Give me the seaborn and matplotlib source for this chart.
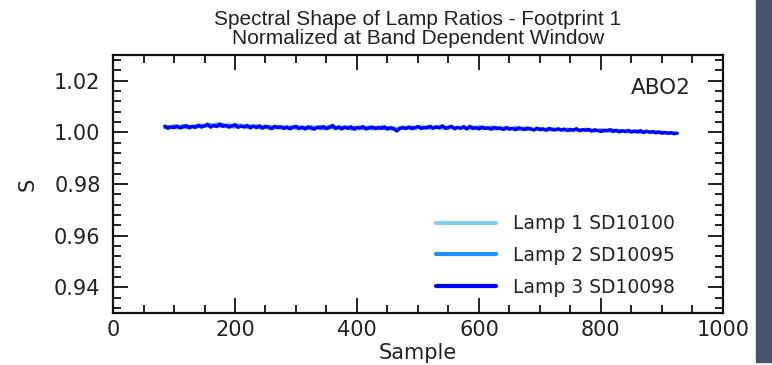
import numpy as np
import pandas as pd
import matplotlib
matplotlib.use("Agg")
import matplotlib.pyplot as plt
import seaborn as sns
from matplotlib.ticker import MultipleLocator, FormatStrFormatter
from matplotlib.patches import Rectangle

# every 5th sample
samples = list(range(85, 926, 5))

lamp3 = [1.0024, 1.0016, 1.0022, 1.0018, 1.0025, 1.0017, 1.0021, 1.0026, 1.0018, 1.0023,
         1.0019, 1.0027, 1.0021, 1.0025, 1.0031, 1.0020, 1.0028, 1.0022, 1.0033, 1.0023,
         1.0028, 1.0020, 1.0026, 1.0030, 1.0019, 1.0025, 1.0021, 1.0027, 1.0017, 1.0024,
         1.0019, 1.0026, 1.0016, 1.0023, 1.0020, 1.0014, 1.0024, 1.0018, 1.0022, 1.0015,
         1.0021, 1.0014, 1.0019, 1.0024, 1.0015, 1.0020, 1.0013, 1.0022, 1.0017, 1.0012,
         1.0021, 1.0016, 1.0023, 1.0014, 1.0019, 1.0027, 1.0016, 1.0021, 1.0013, 1.0020,
         1.0015, 1.0022, 1.0012, 1.0019, 1.0016, 1.0023, 1.0013, 1.0018, 1.0021, 1.0014,
         1.0020, 1.0015, 1.0022, 1.0013, 1.0018, 1.0016, 1.0005, 1.0014, 1.0019, 1.0015,
         1.0021, 1.0014, 1.0019, 1.0023, 1.0015, 1.0020, 1.0017, 1.0024, 1.0016, 1.0021,
         1.0017, 1.0026, 1.0015, 1.0020, 1.0023, 1.0014, 1.0019, 1.0016, 1.0022, 1.0013,
         1.0024, 1.0016, 1.0019, 1.0013, 1.0021, 1.0015, 1.0018, 1.0012, 1.0020, 1.0014,
         1.0017, 1.0011, 1.0019, 1.0013, 1.0016, 1.0010, 1.0018, 1.0014, 1.0011, 1.0017,
         1.0013, 1.0009, 1.0016, 1.0011, 1.0014, 1.0008, 1.0015, 1.0012, 1.0009, 1.0014,
         1.0010, 1.0013, 1.0007, 1.0012, 1.0009, 1.0014, 1.0006, 1.0011, 1.0008, 1.0012,
         1.0005, 1.0010, 1.0007, 1.0003, 1.0009, 1.0006, 1.0011, 1.0004, 1.0008, 1.0002,
         1.0007, 1.0003, 1.0008, 1.0001, 1.0005, 1.0002, 1.0007, 0.9999, 1.0004, 1.0001,
         1.0003, 0.9998, 1.0002, 0.9997, 1.0000, 0.9996, 0.9999, 0.9995, 0.9997]

lamp2 = [1.0018, 1.0023, 1.0019, 1.0025, 1.0020, 1.0022, 1.0027, 1.0019, 1.0024, 1.0021,
         1.0026, 1.0022, 1.0028, 1.0023, 1.0026, 1.0030, 1.0024, 1.0029, 1.0025, 1.0031,
         1.0022, 1.0027, 1.0024, 1.0021, 1.0028, 1.0023, 1.0026, 1.0020, 1.0025, 1.0022,
         1.0025, 1.0018, 1.0022, 1.0019, 1.0024, 1.0020, 1.0017, 1.0023, 1.0019, 1.0021,
         1.0016, 1.0020, 1.0023, 1.0017, 1.0014, 1.0021, 1.0018, 1.0015, 1.0022, 1.0016,
         1.0019, 1.0022, 1.0015, 1.0020, 1.0024, 1.0018, 1.0014, 1.0022, 1.0017, 1.0021,
         1.0018, 1.0014, 1.0020, 1.0017, 1.0021, 1.0015, 1.0019, 1.0016, 1.0013, 1.0020,
         1.0016, 1.0021, 1.0014, 1.0019, 1.0015, 1.0011, 1.0013, 1.0017, 1.0021, 1.0014,
         1.0018, 1.0020, 1.0016, 1.0021, 1.0018, 1.0015, 1.0022, 1.0019, 1.0016, 1.0023,
         1.0019, 1.0022, 1.0018, 1.0016, 1.0021, 1.0017, 1.0020, 1.0015, 1.0019, 1.0016,
         1.0020, 1.0014, 1.0017, 1.0021, 1.0016, 1.0019, 1.0014, 1.0018, 1.0015, 1.0019,
         1.0013, 1.0016, 1.0019, 1.0012, 1.0015, 1.0018, 1.0011, 1.0016, 1.0014, 1.0012,
         1.0016, 1.0011, 1.0013, 1.0015, 1.0010, 1.0012, 1.0016, 1.0009, 1.0013, 1.0011,
         1.0008, 1.0012, 1.0010, 1.0007, 1.0011, 1.0013, 1.0008, 1.0010, 1.0012, 1.0007,
         1.0009, 1.0006, 1.0008, 1.0010, 1.0005, 1.0008, 1.0006, 1.0009, 1.0005, 1.0007,
         1.0004, 1.0006, 1.0002, 1.0005, 1.0003, 1.0006, 1.0001, 1.0003, 1.0005, 1.0000,
         1.0001, 1.0003, 0.9999, 1.0001, 0.9998, 1.0000, 0.9997, 0.9998, 0.9996]

lamp1 = [1.0026, 1.0015, 1.0020, 1.0027, 1.0016, 1.0024, 1.0019, 1.0028, 1.0015, 1.0025,
         1.0021, 1.0030, 1.0018, 1.0027, 1.0034, 1.0021, 1.0029, 1.0035, 1.0022, 1.0030,
         1.0026, 1.0033, 1.0019, 1.0028, 1.0023, 1.0031, 1.0018, 1.0026, 1.0021, 1.0029,
         1.0016, 1.0024, 1.0020, 1.0027, 1.0013, 1.0022, 1.0018, 1.0025, 1.0014, 1.0021,
         1.0024, 1.0012, 1.0020, 1.0016, 1.0025, 1.0013, 1.0021, 1.0018, 1.0011, 1.0023,
         1.0015, 1.0024, 1.0013, 1.0021, 1.0017, 1.0028, 1.0019, 1.0012, 1.0022, 1.0016,
         1.0024, 1.0013, 1.0020, 1.0011, 1.0022, 1.0017, 1.0014, 1.0024, 1.0016, 1.0019,
         1.0012, 1.0023, 1.0017, 1.0011, 1.0021, 1.0014, 1.0008, 1.0019, 1.0013, 1.0022,
         1.0016, 1.0024, 1.0012, 1.0020, 1.0025, 1.0014, 1.0022, 1.0013, 1.0021, 1.0018,
         1.0025, 1.0013, 1.0022, 1.0017, 1.0026, 1.0012, 1.0021, 1.0015, 1.0024, 1.0017,
         1.0013, 1.0022, 1.0015, 1.0024, 1.0012, 1.0019, 1.0016, 1.0023, 1.0011, 1.0018,
         1.0020, 1.0014, 1.0010, 1.0018, 1.0012, 1.0020, 1.0013, 1.0009, 1.0019, 1.0012,
         1.0015, 1.0010, 1.0017, 1.0008, 1.0014, 1.0011, 1.0007, 1.0016, 1.0010, 1.0013,
         1.0011, 1.0006, 1.0014, 1.0009, 1.0005, 1.0013, 1.0009, 1.0006, 1.0012, 1.0008,
         1.0004, 1.0011, 1.0006, 1.0009, 1.0003, 1.0010, 1.0005, 1.0002, 1.0009, 1.0004,
         1.0008, 1.0002, 1.0006, 1.0003, 1.0007, 0.9999, 1.0004, 1.0001, 1.0006, 0.9998,
         1.0002, 0.9999, 1.0003, 0.9996, 0.9999, 0.9997, 1.0001, 0.9994, 0.9996]

labels = ["Lamp 1 SD10100", "Lamp 2 SD10095", "Lamp 3 SD10098"]
colors = ["#87cfee", "#1e8fff", "#0000ff"]

n = len(samples)
df = pd.DataFrame({
    "Sample": samples * 3,
    "S": lamp1 + lamp2 + lamp3,
    "Lamp": [labels[0]] * n + [labels[1]] * n + [labels[2]] * n,
})

sns.set_style("ticks")
plt.rcParams["font.family"] = ["DejaVu Sans"]

fig = plt.figure(figsize=(7.72, 3.65), dpi=100)
ax = fig.add_axes([0.1464, 0.1425, 0.79, 0.7068])

sns.lineplot(data=df, x="Sample", y="S", hue="Lamp", hue_order=labels,
             palette=colors, linewidth=2.3, estimator=None, ax=ax)

ax.set_xlim(0, 1000)
ax.set_ylim(0.93, 1.03)
ax.xaxis.set_major_locator(MultipleLocator(200))
ax.xaxis.set_minor_locator(MultipleLocator(50))
ax.yaxis.set_major_locator(MultipleLocator(0.02))
ax.yaxis.set_minor_locator(MultipleLocator(0.004))
ax.yaxis.set_major_formatter(FormatStrFormatter("%.2f"))
ax.tick_params(which="both", direction="in", top=True, right=True, width=1.3,
               labelsize=15, colors="#111111", labelcolor="#222222")
ax.tick_params(which="major", length=11, pad=5)
ax.tick_params(axis="y", which="major", pad=9)
ax.tick_params(which="minor", length=5.5)
for sp in ax.spines.values():
    sp.set_linewidth(1.6)
    sp.set_color("#111111")

ax.set_xlabel("Sample", fontsize=15, labelpad=2, color="#222222")
ax.set_ylabel("S", fontsize=15, labelpad=12, color="#222222")
ax.set_title("Spectral Shape of Lamp Ratios - Footprint 1\nNormalized at Band Dependent Window",
             fontsize=15, family="Liberation Sans", linespacing=1.0, pad=8, color="#222222")

ax.text(0.948, 0.873, "ABO2", transform=ax.transAxes, ha="right", va="center",
        fontsize=15.5, color="#222222")

leg = ax.legend(loc="lower right", bbox_to_anchor=(0.934, 0.033), borderaxespad=0,
                frameon=False, fontsize=13.5, handlelength=3.2, handletextpad=0.9,
                labelspacing=0.69)
for line in leg.get_lines():
    line.set_linewidth(3)
for t in leg.get_texts():
    t.set_color("#222222")

# dark strip on the right edge of the page
fig.patches.append(Rectangle((756 / 772, 3 / 365), 16 / 772, 362 / 365,
                             transform=fig.transFigure, color="#44546a", zorder=0))

fig.savefig("out.png", dpi=100)
